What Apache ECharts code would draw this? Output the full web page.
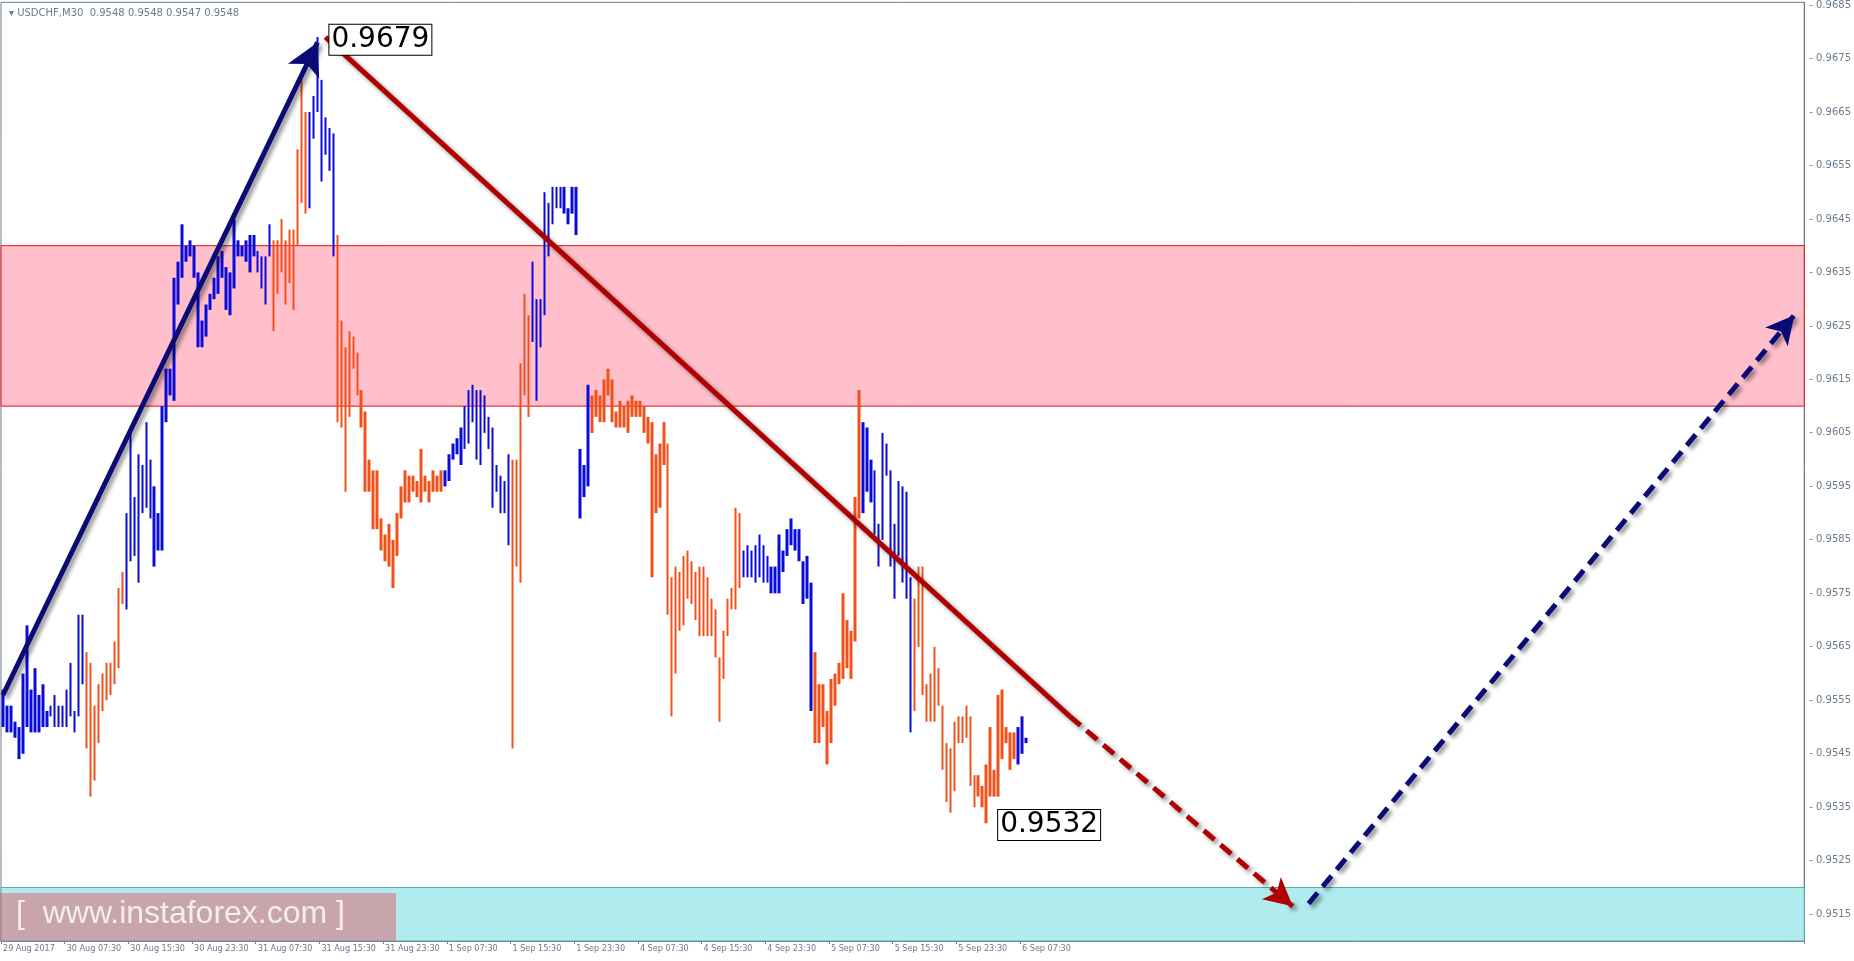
<!DOCTYPE html>
<html><head><meta charset="utf-8">
<script src="https://cdn.jsdelivr.net/npm/echarts@6/dist/echarts.min.js"></script>
<style>html,body{margin:0;padding:0;background:#fff;overflow:hidden}#c{width:1854px;height:961px}</style>
</head><body><div id="c"></div>
<script>
const highs = [
0.9557,0.9554,0.9554,0.9551,0.9550,0.9560,0.9569,0.9557,0.9561,0.9556,
0.9558,0.9553,0.9554,0.9556,0.9554,0.9554,0.9557,0.9562,0.9553,0.9571,
0.9571,0.9564,0.9562,0.9554,0.9558,0.9560,0.9562,0.9562,0.9566,0.9576,
0.9579,0.9590,0.9606,0.9593,0.9601,0.9599,0.9607,0.9600,0.9595,0.9590,
0.9610,0.9617,0.9617,0.9634,0.9637,0.9644,0.9640,0.9641,0.9640,0.9635,
0.9626,0.9629,0.9631,0.9634,0.9638,0.9639,0.9636,0.9635,0.9645,0.9641,
0.9640,0.9641,0.9642,0.9642,0.9639,0.9638,0.9638,0.9644,0.9641,0.9641,
0.9645,0.9641,0.9643,0.9643,0.9658,0.9672,0.9665,0.9665,0.9668,0.9679,
0.9671,0.9664,0.9662,0.9661,0.9642,0.9626,0.9621,0.9624,0.9623,0.9620,
0.9613,0.9609,0.9600,0.9598,0.9598,0.9589,0.9586,0.9588,0.9585,0.9590,
0.9595,0.9598,0.9597,0.9597,0.9596,0.9602,0.9597,0.9596,0.9598,0.9597,
0.9598,0.9598,0.9601,0.9603,0.9604,0.9606,0.9610,0.9613,0.9614,0.9613,
0.9613,0.9612,0.9608,0.9606,0.9599,0.9597,0.9596,0.9601,0.9600,0.9600,
0.9618,0.9631,0.9627,0.9637,0.9630,0.9630,0.9650,0.9648,0.9651,0.9651,
0.9651,0.9651,0.9647,0.9651,0.9651,0.9602,0.9599,0.9614,0.9612,0.9613,
0.9612,0.9615,0.9617,0.9615,0.9609,0.9611,0.9610,0.9611,0.9612,0.9611,
0.9611,0.9610,0.9608,0.9607,0.9601,0.9603,0.9607,0.9603,0.9578,0.9580,
0.9579,0.9582,0.9583,0.9581,0.9579,0.9580,0.9580,0.9578,0.9574,0.9572,
0.9563,0.9568,0.9574,0.9576,0.9591,0.9590,0.9583,0.9584,0.9583,0.9584,
0.9586,0.9584,0.9582,0.9580,0.9580,0.9586,0.9583,0.9587,0.9589,0.9587,
0.9587,0.9581,0.9582,0.9577,0.9564,0.9558,0.9558,0.9553,0.9559,0.9560,
0.9562,0.9575,0.9570,0.9568,0.9593,0.9613,0.9607,0.9606,0.9600,0.9598,
0.9588,0.9605,0.9603,0.9598,0.9588,0.9596,0.9595,0.9594,0.9578,0.9574,
0.9580,0.9580,0.9558,0.9560,0.9565,0.9561,0.9554,0.9547,0.9546,0.9551,
0.9552,0.9552,0.9554,0.9552,0.9541,0.9541,0.9539,0.9543,0.9550,0.9542,
0.9556,0.9557,0.9550,0.9549,0.9549,0.9550,0.9552,0.9548];
const lows = [
0.9550,0.9549,0.9549,0.9548,0.9544,0.9545,0.9550,0.9549,0.9549,0.9549,
0.9550,0.9550,0.9552,0.9550,0.9550,0.9550,0.9550,0.9552,0.9549,0.9552,
0.9558,0.9546,0.9537,0.9540,0.9547,0.9553,0.9555,0.9556,0.9558,0.9561,
0.9573,0.9572,0.9581,0.9582,0.9577,0.9590,0.9591,0.9589,0.9580,0.9583,
0.9583,0.9607,0.9612,0.9611,0.9629,0.9634,0.9637,0.9638,0.9634,0.9621,
0.9621,0.9623,0.9628,0.9630,0.9631,0.9634,0.9628,0.9627,0.9632,0.9638,
0.9638,0.9637,0.9635,0.9638,0.9635,0.9632,0.9629,0.9638,0.9624,0.9631,
0.9635,0.9629,0.9633,0.9628,0.9640,0.9648,0.9646,0.9647,0.9660,0.9665,
0.9652,0.9657,0.9654,0.9638,0.9607,0.9606,0.9594,0.9608,0.9617,0.9612,
0.9606,0.9594,0.9594,0.9587,0.9587,0.9583,0.9581,0.9580,0.9576,0.9582,
0.9589,0.9592,0.9592,0.9594,0.9593,0.9592,0.9594,0.9592,0.9594,0.9594,
0.9594,0.9595,0.9596,0.9600,0.9601,0.9599,0.9602,0.9603,0.9607,0.9600,
0.9599,0.9605,0.9602,0.9591,0.9594,0.9590,0.9590,0.9584,0.9546,0.9580,
0.9577,0.9612,0.9608,0.9622,0.9611,0.9621,0.9627,0.9638,0.9644,0.9647,
0.9647,0.9646,0.9644,0.9646,0.9642,0.9589,0.9593,0.9595,0.9605,0.9608,
0.9607,0.9607,0.9612,0.9607,0.9606,0.9606,0.9606,0.9605,0.9608,0.9608,
0.9608,0.9605,0.9603,0.9578,0.9590,0.9591,0.9599,0.9571,0.9552,0.9560,
0.9568,0.9569,0.9574,0.9573,0.9570,0.9567,0.9567,0.9567,0.9567,0.9563,
0.9551,0.9559,0.9567,0.9572,0.9572,0.9576,0.9578,0.9578,0.9578,0.9577,
0.9578,0.9577,0.9577,0.9575,0.9575,0.9575,0.9579,0.9582,0.9584,0.9583,
0.9581,0.9573,0.9574,0.9553,0.9547,0.9547,0.9550,0.9543,0.9547,0.9554,
0.9558,0.9559,0.9561,0.9559,0.9566,0.9589,0.9590,0.9594,0.9592,0.9586,
0.9580,0.9585,0.9597,0.9580,0.9574,0.9582,0.9577,0.9574,0.9549,0.9553,
0.9565,0.9556,0.9551,0.9551,0.9551,0.9554,0.9542,0.9536,0.9534,0.9538,
0.9547,0.9547,0.9548,0.9539,0.9535,0.9537,0.9535,0.9532,0.9537,0.9537,
0.9537,0.9544,0.9547,0.9542,0.9544,0.9543,0.9545,0.9547];
// B = bullish (blue), O = bearish (orange)
const dirs =
"BBBBBBBBBBBBBBBBBBBBB" + "OOOOOOOOOO" + "BBBBBBBBBBBBBBBBBBBBBBBBBBBBBBBBBBBBB" +
"OOOOOOOOO" + "BBBBBBB" + "OOOOOOOOOOOOOOOOOOOOOOOOOOO" + "BBBBBBBBBBBBBBBBB" +
"OOOOO" + "BBBBBBBBBBBBBBB" + "OOOOOOOOOOOOOOOOOOOOOOOOOOOOOOOOOOOOOO" +
"BBBBBBBBBBBBBBBBBB" + "OOOOOOOOOOOO" + "BBBBBBBBBBBBB" + "OOOOOOOOOOOOOOOOOOOOOOOOOO" + "BBB";
const timeLabels = ["29 Aug 2017","30 Aug 07:30","30 Aug 15:30","30 Aug 23:30","31 Aug 07:30","31 Aug 15:30","31 Aug 23:30","1 Sep 07:30","1 Sep 15:30","1 Sep 23:30","4 Sep 07:30","4 Sep 15:30","4 Sep 23:30","5 Sep 07:30","5 Sep 15:30","5 Sep 23:30","6 Sep 07:30"];
const labelEvery = 16;
const slotCount = 453;
const resistance = [0.9610, 0.9640];
const support = [0.9510, 0.9520];
const lastPrice = 0.9548;
const peakPrice = 0.9679;
const lowPrice = 0.9532;
const waveUp = [[0, 0.9556], [79, 0.9678]];
const waveDown = [[81, 0.9679], [268, 0.9552]];
const waveDownProj = [[268, 0.9552], [324, 0.95165]];
const waveUpProj = [[328, 0.9517], [450, 0.9627]];

const cats = [];
for (let i = 0; i < slotCount; i++) cats.push(String(i));
const ohlc = highs.map((h, i) => {
  const l = lows[i];
  return dirs[i] === 'B' ? [l, h, l, h] : [h, l, l, h];
});
const c = (p) => ({coord: [String(p[0]), p[1]]});
const shadow = {shadowBlur: 4, shadowColor: 'rgba(0,0,0,0.45)', shadowOffsetX: 3, shadowOffsetY: 3};
const chart = echarts.init(document.getElementById('c'));
chart.setOption({
  animation: false,
  title: {text: '\u25BE USDCHF,M30  0.9548 0.9548 0.9547 0.9548', left: 4, top: 3,
    textStyle: {fontSize: 10, fontWeight: 'normal', color: '#6b7b8c', fontFamily: 'DejaVu Sans'}},
  grid: {left: 0, right: 28, top: 0, bottom: 20, show: true, borderColor: '#6b7b8c', borderWidth: 1},
  xAxis: {type: 'category', data: cats, boundaryGap: true,
    axisLine: {lineStyle: {color: '#6b7b8c'}},
    axisTick: {show: true, interval: (i) => i % labelEvery === 0 && i / labelEvery < timeLabels.length, length: 3, lineStyle: {color: '#6b7b8c'}},
    axisLabel: {interval: 0, align: 'left', margin: 3, color: '#6b7b8c', fontSize: 9, fontFamily: 'DejaVu Sans Condensed, Liberation Sans Narrow, sans-serif',
      formatter: (v, i) => (i % labelEvery === 0 && timeLabels[i / labelEvery]) ? timeLabels[i / labelEvery] : ''},
    splitLine: {show: false}},
  yAxis: {type: 'value', position: 'right', min: 0.9510, max: 0.96855, interval: 0.0005, scale: true,
    axisLine: {show: true, lineStyle: {color: '#6b7b8c'}},
    axisTick: {show: false},
    splitLine: {show: false},
    axisLabel: {margin: 5, color: '#6b7b8c', fontSize: 10, fontFamily: 'DejaVu Sans',
      formatter: (v) => Math.round(v * 10000) % 10 === 5 ? '- ' + v.toFixed(4) : ''}},
  series: [{
    type: 'candlestick', data: ohlc, barWidth: 3,
    itemStyle: {color: '#0a0adc', borderColor: '#0a0adc', color0: '#f0501a', borderColor0: '#f0501a', borderWidth: 0},
    markArea: {silent: true, data: [
      [{yAxis: resistance[0], itemStyle: {color: '#ffc0cb', borderColor: '#d81818', borderWidth: 1}}, {yAxis: resistance[1]}],
      [{yAxis: support[0], itemStyle: {color: '#b0eced', borderColor: '#5aa9b0', borderWidth: 1}}, {yAxis: support[1]}]
    ]},
    markLine: {silent: true, animation: false, data: [
      {yAxis: lastPrice, symbol: 'none', lineStyle: {color: '#dfe6f0', width: 1, type: 'solid'},
        label: {show: true, position: 'end', formatter: '0.9548', color: '#fff', backgroundColor: '#6b7b8c', padding: [1, 3], fontSize: 10, distance: 2}},
      [Object.assign(c(waveUp[0]), {symbol: 'none', lineStyle: Object.assign({color: '#0b0b78', width: 5, type: 'solid'}, shadow)}),
       Object.assign(c(waveUp[1]), {symbol: 'arrow', symbolSize: [26, 32]})],
      [Object.assign(c(waveDown[0]), {symbol: 'none', lineStyle: Object.assign({color: '#b00000', width: 5, type: 'solid'}, shadow)}),
       Object.assign(c(waveDown[1]), {symbol: 'none'})],
      [Object.assign(c(waveDownProj[0]), {symbol: 'none', lineStyle: Object.assign({color: '#b00000', width: 5, type: [14, 8]}, shadow)}),
       Object.assign(c(waveDownProj[1]), {symbol: 'arrow', symbolSize: [22, 28]})],
      [Object.assign(c(waveUpProj[0]), {symbol: 'none', lineStyle: Object.assign({color: '#0b0b78', width: 5, type: [14, 8]}, shadow)}),
       Object.assign(c(waveUpProj[1]), {symbol: 'arrow', symbolSize: [22, 28]})]
    ].map(d => { if (Array.isArray(d)) { d[0].label = {show: false}; } return d; })},
    markPoint: {silent: true, symbol: 'rect', symbolSize: 0, data: [
      {coord: ['82', 0.96785], value: peakPrice, label: {show: true, position: 'right', distance: 0, formatter: peakPrice.toFixed(4),
        color: '#000', fontSize: 28, fontFamily: 'DejaVu Sans', backgroundColor: '#fff', borderColor: '#000', borderWidth: 1, padding: [1, 2]}},
      {coord: ['250', 0.95317], value: lowPrice, label: {show: true, position: 'right', distance: 0, formatter: lowPrice.toFixed(4),
        color: '#000', fontSize: 28, fontFamily: 'DejaVu Sans', backgroundColor: '#fff', borderColor: '#000', borderWidth: 1, padding: [1, 2]}}
    ]}
  }],
  graphic: [
    {type: 'rect', left: 0, top: 893, shape: {width: 396, height: 48}, style: {fill: 'rgba(230,80,95,0.45)'}, z: 100},
    {type: 'text', left: 16, top: 898, style: {text: '[  www.instaforex.com ]', fill: 'rgba(255,255,255,0.8)', font: '32px "Liberation Sans", sans-serif'}, z: 101}
  ]
});
</script></body></html>
